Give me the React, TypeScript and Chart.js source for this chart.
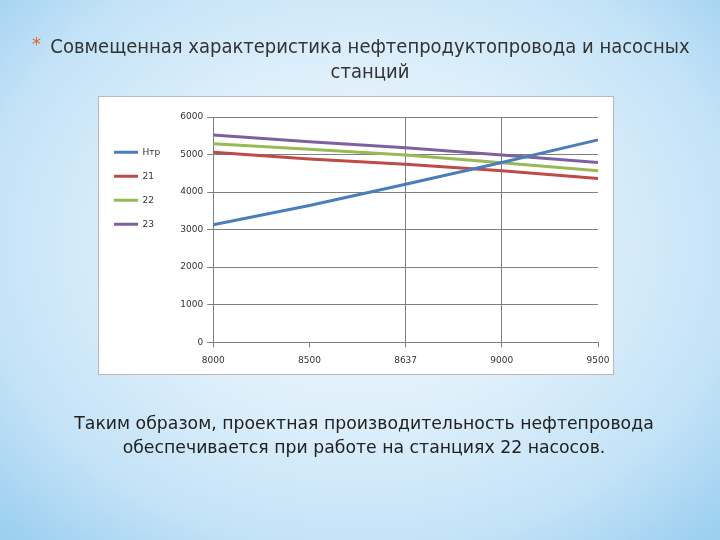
import React, { useEffect, useRef } from "react";
import { Chart, registerables } from "chart.js";

Chart.register(...registerables);

const categories = ["8000", "8500", "8637", "9000", "9500"];
const seriesNames = ["Нтр", "21", "22", "23"];
const seriesColors = ["#4a7ebb", "#be4b48", "#98b954", "#7d60a0"];
const hTr = [3130, 3640, 4210, 4790, 5390];
const s21 = [5060, 4880, 4740, 4570, 4360];
const s22 = [5290, 5140, 4990, 4780, 4570];
const s23 = [5520, 5340, 5180, 4990, 4790];
const yMin = 0;
const yMax = 6000;
const yStep = 1000;

const titleText = "Совмещенная характеристика нефтепродуктопровода и насосных станций";
const bodyLine1 = "Таким образом, проектная производительность нефтепровода";
const bodyLine2 = "обеспечивается при работе на станциях 22 насосов.";

const FONT = "'DejaVu Sans', sans-serif";

export default function App() {
  const canvasRef = useRef<HTMLCanvasElement | null>(null);

  useEffect(() => {
    const canvas = canvasRef.current;
    if (!canvas) return;
    const values = [hTr, s21, s22, s23];
    const chart = new Chart(canvas, {
      type: "line",
      data: {
        labels: categories,
        datasets: seriesNames.map((name, i) => ({
          label: name,
          data: values[i],
          borderColor: seriesColors[i],
          backgroundColor: seriesColors[i],
          borderWidth: 3,
          pointRadius: 0,
          pointHoverRadius: 0,
          tension: 0,
          fill: false,
        })),
      },
      options: {
        animation: false,
        responsive: false,
        maintainAspectRatio: false,
        layout: { padding: { top: 20, right: 15, bottom: 0, left: 0 } },
        plugins: {
          tooltip: { enabled: false },
          legend: {
            display: true,
            position: "left",
            align: "start",
            title: {
              display: true,
              text: " ",
              font: { family: FONT, size: 9 },
              padding: { top: 5, bottom: 0 },
            },
            labels: {
              usePointStyle: true,
              pointStyle: "line",
              pointStyleWidth: 24,
              boxHeight: 9,
              padding: 15,
              color: "#333333",
              font: { family: FONT, size: 9 },
            },
          },
        },
        scales: {
          x: {
            type: "category",
            offset: false,
            afterFit: (scale: any) => {
              scale.paddingRight = 0;
              scale.paddingLeft = 0;
            },
            grid: {
              display: true,
              drawOnChartArea: true,
              color: (ctx: any) =>
                ctx.index === 2 || ctx.index === 3 ? "#808080" : "rgba(0,0,0,0)",
              tickColor: "#808080",
              tickLength: 5,
              lineWidth: 1,
            },
            border: { display: true, color: "#808080", width: 1 },
            ticks: {
              color: "#333333",
              font: { family: FONT, size: 9 },
              padding: 8,
              maxRotation: 0,
              autoSkip: false,
            },
          },
          y: {
            min: yMin,
            max: yMax,
            afterFit: (scale: any) => {
              scale.width = 43;
            },
            grid: {
              color: "#808080",
              tickColor: "#808080",
              tickLength: 6,
              lineWidth: 1,
            },
            border: { display: true, color: "#808080", width: 1 },
            ticks: {
              stepSize: yStep,
              color: "#333333",
              font: { family: FONT, size: 9 },
              padding: 4,
              callback: (value: any) => String(value),
            },
          },
        },
      },
    });
    return () => chart.destroy();
  }, []);

  return (
    <div
      style={{
        position: "fixed",
        left: 0,
        top: 0,
        width: 720,
        height: 540,
        overflow: "hidden",
        background:
          "radial-gradient(ellipse 70% 75% at 50% 45%, #eef7fd 0%, #e0f0fb 40%, #c4e3f7 75%, #9dcff1 100%)",
        fontFamily: FONT,
      }}
    >
      <div
        style={{
          position: "absolute",
          left: 32,
          top: 35,
          color: "#e8632a",
          fontSize: 18,
          lineHeight: "18px",
          fontFamily: FONT,
        }}
      >
        *
      </div>
      <div
        style={{
          position: "absolute",
          left: 44,
          top: 34,
          width: 652,
          textAlign: "center",
          color: "#333333",
          fontSize: 20,
          lineHeight: "25px",
          fontFamily: "'DejaVu Sans Condensed', 'DejaVu Sans', sans-serif",
        }}
      >
        {titleText}
      </div>
      <div
        style={{
          position: "absolute",
          left: 98,
          top: 96,
          width: 514,
          height: 277,
          border: "1px solid #b8b8b8",
          background: "#ffffff",
        }}
      >
        <canvas ref={canvasRef} width={514} height={277} style={{ display: "block" }} />
      </div>
      <div
        style={{
          position: "absolute",
          left: 0,
          top: 411,
          width: 728,
          textAlign: "center",
          color: "#222222",
          fontSize: 17.3,
          lineHeight: "24px",
          fontFamily: FONT,
        }}
      >
        <div>{bodyLine1}</div>
        <div>{bodyLine2}</div>
      </div>
    </div>
  );
}
